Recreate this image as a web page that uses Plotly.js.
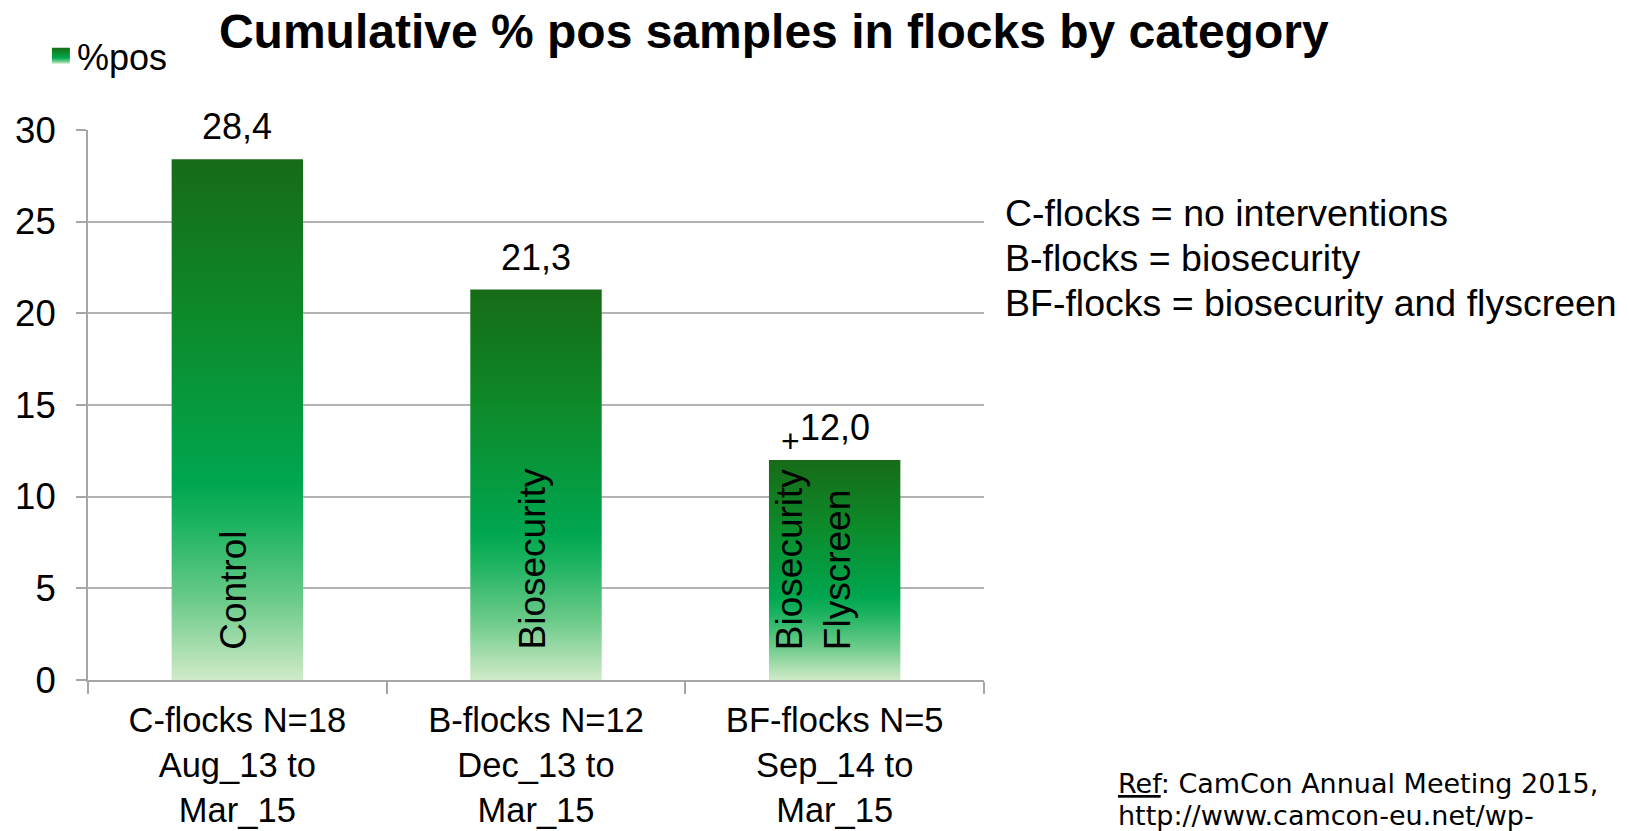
<!DOCTYPE html>
<html>
<head>
<meta charset="utf-8">
<script src="https://cdn.plot.ly/plotly-3.0.1.min.js"></script>
<style>
html,body{margin:0;padding:0;background:#fff;}
#chart{width:1629px;height:831px;}
</style>
</head>
<body>
<div id="chart"></div>
<script>
// ---- data ----
const categories = [
  "C-flocks N=18<br>Aug_13 to<br>Mar_15",
  "B-flocks N=12<br>Dec_13 to<br>Mar_15",
  "BF-flocks N=5<br>Sep_14 to<br>Mar_15"
];
const posValues = [28.4, 21.3, 12.0];
const barLabels = ["Control", "Biosecurity", "Biosecurity<br>Flyscreen"];
const seriesName = "%pos";
const notes = [
  "C-flocks = no interventions",
  "B-flocks = biosecurity",
  "BF-flocks = biosecurity and flyscreen"
];
const refLines = [
  "<u>Ref</u>: CamCon Annual Meeting 2015,",
  "http://www.camcon-eu.net/wp-"
];
const yTicks = [0, 5, 10, 15, 20, 25, 30];

const FONT = "Liberation Sans, Arial, sans-serif";

const trace = {
  type: "bar",
  x: categories,
  y: posValues,
  name: seriesName,
  showlegend: true,
  width: 0.44,
  marker: {color: "#00a64f", line: {width: 0}},
  hoverinfo: "skip"
};

const annotations = [];
// value labels above bars
posValues.forEach((v, i) => {
  annotations.push({
    x: categories[i], y: v, xref: "x", yref: "y",
    text: v.toFixed(1).replace(".", ","),
    showarrow: false, yanchor: "bottom", yshift: 10,
    font: {family: FONT, size: 36, color: "#000"}
  });
});
// rotated labels inside bars
barLabels.forEach((t, i) => {
  annotations.push({
    x: categories[i], y: 0, xref: "x", yref: "y",
    text: t, textangle: -90, align: "left",
    showarrow: false, yanchor: "bottom", yshift: 28,
    xshift: i === 2 ? -21 : -4,
    font: {family: FONT, size: 37, color: "#000"}
  });
});
// stray cursor mark
annotations.push({
  x: categories[2], y: posValues[2], xref: "x", yref: "y",
  text: "+", showarrow: false, xshift: -44, yshift: 19,
  font: {family: FONT, size: 32, color: "#000"}
});
// notes on the right
const noteY = [0.849, 0.767, 0.6855];
notes.forEach((t, i) => {
  annotations.push({
    x: 1.021, y: noteY[i], xref: "paper", yref: "paper",
    text: t, showarrow: false, xanchor: "left", yanchor: "middle",
    font: {family: FONT, size: 37.5, color: "#000"}
  });
});
// reference text
const refY = [-0.188, -0.246];
refLines.forEach((t, i) => {
  annotations.push({
    x: 1.147, y: refY[i], xref: "paper", yref: "paper",
    text: t, showarrow: false, xanchor: "left", yanchor: "middle",
    font: {family: "DejaVu Sans, Verdana, sans-serif", size: 27, color: "#000"}
  });
});

const layout = {
  width: 1629, height: 831,
  margin: {l: 88, r: 645, t: 130, b: 151, pad: 0},
  paper_bgcolor: "#fff", plot_bgcolor: "#fff",
  separators: ", ",
  title: {
    text: "<b>Cumulative % pos samples in flocks by category</b>",
    x: 0.475, xref: "container", xanchor: "center",
    y: 0.963, yref: "container", yanchor: "middle",
    font: {family: FONT, size: 48, color: "#000"}
  },
  showlegend: true,
  legend: {
    x: -0.057, y: 1.135, xanchor: "left", yanchor: "middle",
    xref: "paper", yref: "paper",
    font: {family: FONT, size: 36, color: "#000"},
    bgcolor: "rgba(0,0,0,0)", itemwidth: 30
  },
  xaxis: {
    type: "category",
    showline: true, linecolor: "#a6a6a6", linewidth: 2,
    ticks: "outside", tickson: "boundaries", ticklen: 12, tickcolor: "#a6a6a6", tickwidth: 2,
    tickfont: {family: FONT, size: 34.5, color: "#000"},
    ticklabelstandoff: 9,
    showgrid: false, zeroline: false,
    range: [-0.5, 2.5]
  },
  yaxis: {
    range: [0, 30],
    tickvals: yTicks,
    ticktext: yTicks.map(String),
    showline: true, linecolor: "#a6a6a6", linewidth: 2,
    ticks: "outside", ticklen: 10, tickcolor: "#a6a6a6", tickwidth: 2,
    showgrid: true, gridcolor: "#b3b3b3", gridwidth: 2,
    zeroline: false,
    tickfont: {family: FONT, size: 36.5, color: "#000"},
    ticklabelstandoff: 13
  },
  annotations: annotations
};

function applyGradient(gd) {
  const svg = gd.querySelector("svg.main-svg");
  if (!svg) return;
  const NS = "http://www.w3.org/2000/svg";
  let defs = svg.querySelector("defs");
  if (!defs) { defs = document.createElementNS(NS, "defs"); svg.insertBefore(defs, svg.firstChild); }
  if (!svg.querySelector("#greenGrad")) {
    const g = document.createElementNS(NS, "linearGradient");
    g.setAttribute("id", "greenGrad");
    g.setAttribute("x1", "0"); g.setAttribute("y1", "0");
    g.setAttribute("x2", "0"); g.setAttribute("y2", "1");
    const stops = [
      [0, "#176b17"], [0.3, "#0d8a2a"], [0.62, "#00a64f"],
      [0.7, "#1cb360"], [0.85, "#6dcb8a"], [1, "#d0eac8"]
    ];
    stops.forEach(([o, c]) => {
      const s = document.createElementNS(NS, "stop");
      s.setAttribute("offset", o);
      s.setAttribute("stop-color", c);
      g.appendChild(s);
    });
    defs.appendChild(g);
  }
  gd.querySelectorAll(".barlayer .point path").forEach(p => {
    p.style.fill = "url(#greenGrad)";
  });
  gd.querySelectorAll(".legend .legendpoints path").forEach(p => {
    p.setAttribute("d", "M13,8H-5V-8H13Z");
    p.style.fill = "url(#greenGrad)";
  });
}

Plotly.newPlot("chart", [trace], layout, {staticPlot: true}).then(gd => {
  applyGradient(gd);
});
</script>
</body>
</html>
